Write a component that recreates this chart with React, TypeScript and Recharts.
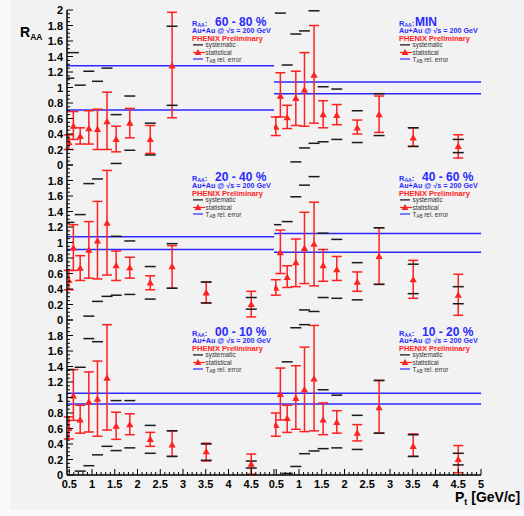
import React from 'react';
import { ComposedChart, Scatter, XAxis, YAxis, ErrorBar, ReferenceLine } from 'recharts';

// pT bin centres (GeV/c)
const ptBins = [0.49, 0.59, 0.74, 0.93, 1.12, 1.33, 1.53, 1.83, 2.28, 2.76, 3.51, 4.5];

// 60 - 80 % centrality
const raa6080 = [0.29, 0.5, 0.37, 0.47, 0.46, 0.56, 0.33, 0.54, 0.33, 1.28];
const statLo6080 = [0.2, 0.33, 0.27, 0.27, 0.2, 0.2, 0.17, 0.35, 0.15, 0.61];
const statHi6080 = [0.39, 0.69, 0.48, 0.7, 0.72, 0.94, 0.5, 0.73, 0.51, 1.97];
const sysLo6080 = [null, null, null, null, null, null, 0.02, 0.19, 0.13, 0.77];
const sysHi6080 = [1.12, 1.45, 1.03, 1.21, 1.08, 1.25, 0.65, 0.89, 0.54, 1.79];
const tab6080 = [1.28, 0.71];

// minimum bias
const raaMin = [0.49, 0.89, 0.61, 0.86, 0.97, 1.16, 0.65, 0.64, 0.48, 0.65, 0.35, 0.24];
const statLoMin = [0.38, 0.62, 0.47, 0.51, 0.5, 0.54, 0.48, 0.52, 0.4, 0.42, 0.24, 0.09];
const statHiMin = [0.62, 1.19, 0.77, 1.21, 1.45, 1.8, 0.83, 0.78, 0.58, 0.89, 0.48, 0.39];
const sysLoMin = [null, null, null, 0.04, 0.22, 0.28, 0.3, 0.33, 0.29, 0.38, 0.24, 0.16];
const sysHiMin = [null, 1.96, 1.29, 1.69, 1.73, 1.99, 1.01, 0.98, 0.7, 0.92, 0.48, 0.33];
const tabMin = [1.07, 0.92];

// 20 - 40 %
const raa2040 = [0.51, 0.93, 0.67, 0.9, 1.02, 1.25, 0.7, 0.675, 0.48, 0.69, 0.35, 0.2];
const statLo2040 = [0.39, 0.64, 0.51, 0.54, 0.53, 0.58, 0.51, 0.54, 0.39, 0.41, 0.22, 0.04];
const statHi2040 = [0.64, 1.23, 0.83, 1.27, 1.53, 1.93, 0.89, 0.81, 0.57, 0.96, 0.49, 0.37];
const sysLo2040 = [null, null, null, 0.05, 0.24, 0.305, 0.32, 0.33, 0.27, 0.41, 0.22, 0.14];
const sysHi2040 = [1.26, null, 1.36, 1.76, 1.82, null, 1.08, 1.02, 0.69, 0.985, 0.49, 0.29];
const tab2040 = [1.075, 0.91];

// 40 - 60 %
const raa4060 = [0.41, 0.87, 0.55, 0.74, 0.925, 0.98, 0.7, 0.65, 0.49, 0.82, 0.52, 0.32];
const statLo4060 = [0.32, 0.6, 0.42, 0.43, 0.47, 0.44, 0.5, 0.51, 0.37, 0.46, 0.28, 0.06];
const statHi4060 = [0.52, 1.16, 0.7, 1.045, 1.39, 1.52, 0.91, 0.82, 0.62, 1.19, 0.77, 0.59];
const sysLo4060 = [null, null, null, null, 0.13, 0.11, 0.29, 0.28, 0.26, 0.46, 0.34, 0.21];
const sysHi4060 = [1.23, null, 1.27, 1.59, 1.74, 1.85, 1.12, 1.04, 0.74, 1.19, 0.72, 0.43];
const tab4060 = [1.115, 0.875];

// 00 - 10 %
const raa0010 = [0.6, 1.02, 0.71, 0.94, 0.98, 1.25, 0.63, 0.65, 0.46, 0.39, 0.3, 0.14];
const statLo0010 = [0.465, 0.705, 0.54, 0.555, 0.5, 0.58, 0.46, 0.52, 0.37, 0.24, 0.18, 0.01];
const statHi0010 = [0.75, 1.36, 0.9, 1.33, 1.47, 1.94, 0.81, 0.79, 0.55, 0.57, 0.41, 0.27];
const sysLo0010 = [null, null, 0.05, 0.12, 0.26, 0.37, 0.315, 0.35, 0.28, 0.24, 0.19, 0.09];
const sysHi0010 = [1.36, null, 1.39, 1.76, 1.72, null, 0.96, 0.96, 0.64, 0.57, 0.4, 0.18];
const tab0010 = [1.055, 0.915];

// 10 - 20 %
const raa1020 = [0.64, 1.04, 0.73, 0.99, 1.1, 1.24, 0.71, 0.68, 0.54, 0.87, 0.37, 0.2];
const statLo1020 = [0.5, 0.71, 0.55, 0.59, 0.56, 0.57, 0.52, 0.54, 0.44, 0.54, 0.24, 0.03];
const statHi1020 = [0.8, 1.38, 0.9, 1.41, 1.65, 1.93, 0.93, 0.83, 0.65, 1.22, 0.53, 0.38];
const sysLo1020 = [null, null, 0.02, 0.11, 0.275, 0.31, 0.34, 0.35, 0.33, 0.54, 0.24, 0.13];
const sysHi1020 = [null, null, 1.46, 1.9, 1.94, null, 1.1, 1.03, 0.77, 1.22, 0.52, 0.28];
const tab1020 = [1.055, 0.915];

const panels = [
  { label: '60 - 80 %', raa: raa6080, lo: statLo6080, hi: statHi6080, sysLo: sysLo6080, sysHi: sysHi6080, tab: tab6080 },
  { label: 'MIN', raa: raaMin, lo: statLoMin, hi: statHiMin, sysLo: sysLoMin, sysHi: sysHiMin, tab: tabMin },
  { label: '20 - 40 %', raa: raa2040, lo: statLo2040, hi: statHi2040, sysLo: sysLo2040, sysHi: sysHi2040, tab: tab2040 },
  { label: '40 - 60 %', raa: raa4060, lo: statLo4060, hi: statHi4060, sysLo: sysLo4060, sysHi: sysHi4060, tab: tab4060 },
  { label: '00 - 10 %', raa: raa0010, lo: statLo0010, hi: statHi0010, sysLo: sysLo0010, sysHi: sysHi0010, tab: tab0010 },
  { label: '10 - 20 %', raa: raa1020, lo: statLo1020, hi: statHi1020, sysLo: sysLo1020, sysHi: sysHi1020, tab: tab1020 },
];

const FONT = '"Liberation Sans", Arial, Helvetica, sans-serif';
const RED = '#ff2020';
const BLUE = '#2a2aff';
const BG = '#f2f2f2';

// frame geometry
const X0 = 67;
const Y0 = 10;
const PW = 207;
const PH = 155;
const PAD = 8;
const MARGIN_L = 10;
const LABEL_W = 60;

// minor ticks every 0.05 in y, 0.1 in x
const yTicks: number[] = [];
for (let i = 0; i <= 40; i++) yTicks.push(i / 20);
const xTicks: number[] = [];
for (let i = 5; i <= 50; i++) xTicks.push(i / 10);

const fmt = (v: number) => String(Math.round(v * 10) / 10);

function XTick(props: any) {
  const { x, y, payload, side, showLabels, maxLabel } = props;
  const v = payload.value;
  const major = Math.round(v * 10) % 5 === 0;
  const len = major ? 6 : 3;
  const dir = side === 'bottom' ? -1 : 1;
  return (
    <g>
      <line x1={x} x2={x} y1={y} y2={y + dir * len} stroke="#000" strokeWidth={1} />
      {showLabels && major && v <= maxLabel + 1e-6 && (
        <text x={x} y={y + 13} textAnchor="middle" fontSize={11} fontWeight="bold" fontFamily={FONT} fill="#000">
          {fmt(v)}
        </text>
      )}
    </g>
  );
}

function YTick(props: any) {
  const { x, y, payload, side, showLabels, maxLabel } = props;
  const v = payload.value;
  const major = Math.round(v * 100) % 20 === 0;
  const len = major ? 6 : 3;
  const dir = side === 'left' ? 1 : -1;
  return (
    <g>
      <line x1={x} x2={x + dir * len} y1={y} y2={y} stroke="#000" strokeWidth={1} />
      {showLabels && major && v <= maxLabel + 1e-6 && (
        <text x={x - 4} y={y + 4} textAnchor="end" fontSize={11} fontWeight="bold" fontFamily={FONT} fill="#000">
          {fmt(v)}
        </text>
      )}
    </g>
  );
}

const Tri = (p: any) => (
  <polygon
    points={`${p.cx},${p.cy - 3.8} ${p.cx + 3.6},${p.cy + 2.6} ${p.cx - 3.6},${p.cy + 2.6}`}
    fill={RED}
  />
);

const SysDash = (p: any) => (
  <line x1={p.cx - 5.5} x2={p.cx + 5.5} y1={p.cy} y2={p.cy} stroke="#1a1a1a" strokeWidth={1.5} />
);

function Panel({ cfg, col, row }: { cfg: any; col: number; row: number }) {
  const left = X0 + col * PW;
  const top = Y0 + row * PH;
  const yl = col === 0 ? LABEL_W : 0;
  const xb = row === 2 ? 22 : 0;
  const w = MARGIN_L + yl + PW + PAD;
  const h = PAD + PH + xb + PAD;

  const points = cfg.raa.map((r: number, i: number) => ({
    x: ptBins[i],
    y: r,
    err: [r - cfg.lo[i], cfg.hi[i] - r],
  }));
  const sys: { x: number; y: number }[] = [];
  cfg.raa.forEach((_: number, i: number) => {
    if (cfg.sysHi[i] != null) sys.push({ x: ptBins[i], y: cfg.sysHi[i] });
    if (cfg.sysLo[i] != null) sys.push({ x: ptBins[i], y: cfg.sysLo[i] });
  });

  const frame = { stroke: '#000', strokeWidth: 1.5 };

  return (
    <div style={{ position: 'absolute', left: left - yl - MARGIN_L, top: top - PAD }}>
      <ComposedChart width={w} height={h} margin={{ top: PAD, right: PAD, bottom: PAD, left: MARGIN_L }}>
        <XAxis
          xAxisId="b"
          type="number"
          dataKey="x"
          domain={[0.45, 5]}
          allowDataOverflow
          ticks={xTicks}
          interval={0}
          height={xb}
          tickSize={0}
          tickMargin={0}
          tickLine={false}
          axisLine={frame}
          tick={(p: any) => <XTick {...p} side="bottom" showLabels={row === 2} maxLabel={col === 0 ? 4.5 : 5} />}
        />
        <XAxis
          xAxisId="t"
          orientation="top"
          type="number"
          dataKey="x"
          domain={[0.45, 5]}
          allowDataOverflow
          ticks={xTicks}
          interval={0}
          height={0}
          tickSize={0}
          tickMargin={0}
          tickLine={false}
          axisLine={frame}
          tick={(p: any) => <XTick {...p} side="top" showLabels={false} />}
        />
        <YAxis
          yAxisId="l"
          type="number"
          dataKey="y"
          domain={[0, 2]}
          allowDataOverflow
          ticks={yTicks}
          interval={0}
          width={yl}
          tickSize={0}
          tickMargin={0}
          tickLine={false}
          axisLine={frame}
          tick={(p: any) => <YTick {...p} side="left" showLabels={col === 0} maxLabel={row === 0 ? 2 : 1.8} />}
        />
        <YAxis
          yAxisId="r"
          orientation="right"
          type="number"
          dataKey="y"
          domain={[0, 2]}
          allowDataOverflow
          ticks={yTicks}
          interval={0}
          width={0}
          tickSize={0}
          tickMargin={0}
          tickLine={false}
          axisLine={frame}
          tick={(p: any) => <YTick {...p} side="right" showLabels={false} />}
        />
        <Scatter xAxisId="b" yAxisId="l" data={sys} shape={SysDash} isAnimationActive={false} />
        <ReferenceLine xAxisId="b" yAxisId="l" y={cfg.tab[0]} stroke={BLUE} strokeWidth={1.5} />
        <ReferenceLine xAxisId="b" yAxisId="l" y={cfg.tab[1]} stroke={BLUE} strokeWidth={1.5} />
        <Scatter xAxisId="b" yAxisId="l" data={points} shape={Tri} isAnimationActive={false}>
          <ErrorBar dataKey="err" direction="y" width={5} stroke={RED} strokeWidth={1.5} isAnimationActive={false} />
        </Scatter>
      </ComposedChart>
    </div>
  );
}

function PanelKey({ cfg, col, row }: { cfg: any; col: number; row: number }) {
  const x0 = X0 + col * PW + 125;
  const t = Y0 + row * PH;
  const big = cfg.label === 'MIN' ? 16 : 23;
  return (
    <g fontFamily={FONT}>
      <text x={x0} y={t + 15.5} fill={BLUE} fontWeight="bold" fontSize={7.5}>
        R<tspan fontSize={5} dy={1.5}>AA</tspan><tspan dy={-1.5}>:</tspan>
      </text>
      <text x={x0 + big} y={t + 16} fill={BLUE} fontWeight="bold" fontSize={12}>
        {cfg.label}
      </text>
      <text x={x0} y={t + 22.8} fill={BLUE} fontWeight="bold" fontSize={7.2}>
        Au+Au @ √s = 200 GeV
      </text>
      <text x={x0} y={t + 31.2} fill={RED} fontWeight="bold" fontSize={7.5}>
        PHENIX Preliminary
      </text>
      <line x1={x0 + 1} x2={x0 + 11} y1={t + 34.9} y2={t + 34.9} stroke="#111" strokeWidth={1.2} />
      <text x={x0 + 13.5} y={t + 37.2} fontSize={6.4} fill="#333">
        systematic
      </text>
      <line x1={x0 + 1} x2={x0 + 13} y1={t + 42.5} y2={t + 42.5} stroke={RED} strokeWidth={1.2} />
      <polygon
        points={`${x0 + 6},${t + 39} ${x0 + 9.4},${t + 45} ${x0 + 2.6},${t + 45}`}
        fill={RED}
      />
      <text x={x0 + 13.5} y={t + 44.8} fontSize={6.4} fill="#333">
        statistical
      </text>
      <line x1={x0 + 1} x2={x0 + 11} y1={t + 49} y2={t + 49} stroke={BLUE} strokeWidth={1.2} />
      <text x={x0 + 13.5} y={t + 51.5} fontSize={6.4} fill="#333">
        T<tspan fontSize={4.5} dy={1.2}>AB</tspan><tspan dy={-1.2}> rel. error</tspan>
      </text>
    </g>
  );
}

export default function App() {
  return (
    <div style={{ position: 'absolute', left: 0, top: 0, width: 524, height: 516, background: '#fafafa' }}>
      <div style={{ position: 'absolute', left: 10, top: 0, width: 514, height: 510, background: BG }} />
      {panels.map((cfg, i) => (
        <Panel key={i} cfg={cfg} col={i % 2} row={Math.floor(i / 2)} />
      ))}
      <svg
        width={524}
        height={516}
        style={{ position: 'absolute', left: 0, top: 0, pointerEvents: 'none' }}
      >
        {panels.map((cfg, i) => (
          <PanelKey key={i} cfg={cfg} col={i % 2} row={Math.floor(i / 2)} />
        ))}
        <text x={20} y={37} fontFamily={FONT} fontWeight="bold" fontSize={14} fill="#000">
          R<tspan fontSize={8.5} dy={3}>AA</tspan>
        </text>
        <text x={455} y={502} fontFamily={FONT} fontWeight="bold" fontSize={14} fill="#000">
          P<tspan fontSize={9} dy={3}>t</tspan><tspan dy={-3}> [GeV/c]</tspan>
        </text>
      </svg>
    </div>
  );
}
